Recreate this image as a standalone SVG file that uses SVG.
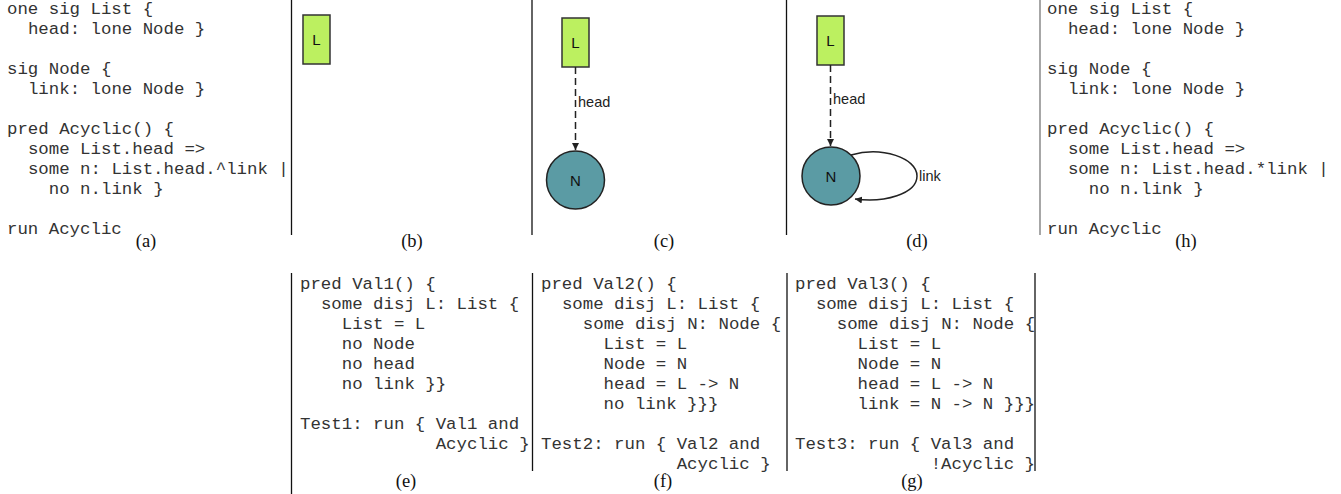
<svg xmlns="http://www.w3.org/2000/svg" width="1341" height="494" viewBox="0 0 1341 494">
<style>
.code{font-family:"Liberation Mono","DejaVu Sans Mono",monospace;font-size:17.4px;fill:#333}
.cap{font-family:"Liberation Serif","DejaVu Serif",serif;font-size:18.5px;fill:#111;text-anchor:middle}
.sep{stroke:#111;stroke-width:1.3}
.lbox{fill:#bcf060;stroke:#333;stroke-width:1.5}
.ncirc{fill:#5b9ba4;stroke:#222;stroke-width:1.5}
.ntxt{font-family:"Liberation Sans","DejaVu Sans",sans-serif;font-size:15px;fill:#111;text-anchor:middle}
.elab{font-family:"Liberation Sans","DejaVu Sans",sans-serif;font-size:14.5px;fill:#222}
.dash{stroke:#222;stroke-width:1.5;stroke-dasharray:7,4;fill:none}
.solid{stroke:#222;stroke-width:1.5;fill:none}
</style>
<defs>
<marker id="arr" viewBox="0 0 10 10" refX="10" refY="5" markerWidth="7" markerHeight="8" markerUnits="userSpaceOnUse" orient="auto">
<path d="M0,0 L10,5 L0,10 z" fill="#222"/>
</marker>
</defs>
<rect width="1341" height="494" fill="#fff"/>

<g id="separators">
<line class="sep" x1="291.5" y1="0" x2="291.5" y2="235"/>
<line class="sep" x1="532" y1="0" x2="532" y2="235"/>
<line class="sep" x1="786.5" y1="0" x2="786.5" y2="235"/>
<line class="sep" x1="1040" y1="0" x2="1040" y2="235" style="stroke:#777"/>
<line class="sep" x1="291.5" y1="273" x2="291.5" y2="494"/>
<line class="sep" x1="532.5" y1="273" x2="532.5" y2="471"/>
<line class="sep" x1="787" y1="273" x2="787" y2="471"/>
<line class="sep" x1="1035" y1="273" x2="1035" y2="471"/>
</g>

<g id="panel-a">
<text class="code" x="7" y="13.5">one sig List {</text>
<text class="code" x="27.9" y="33.5">head: lone Node }</text>
<text class="code" x="7" y="73.5">sig Node {</text>
<text class="code" x="27.9" y="93.5">link: lone Node }</text>
<text class="code" x="7" y="133.5">pred Acyclic() {</text>
<text class="code" x="27.9" y="153.5">some List.head =&gt;</text>
<text class="code" x="27.9" y="173.5">some n: List.head.^link |</text>
<text class="code" x="48.8" y="193.5">no n.link }</text>
<text class="code" x="7" y="233.5">run Acyclic</text>
<text class="cap" x="146" y="247">(a)</text>
</g>

<g id="panel-h">
<text class="code" x="1047" y="13.5">one sig List {</text>
<text class="code" x="1067.9" y="33.5">head: lone Node }</text>
<text class="code" x="1047" y="73.5">sig Node {</text>
<text class="code" x="1067.9" y="93.5">link: lone Node }</text>
<text class="code" x="1047" y="133.5">pred Acyclic() {</text>
<text class="code" x="1067.9" y="153.5">some List.head =&gt;</text>
<text class="code" x="1067.9" y="173.5">some n: List.head.*link |</text>
<text class="code" x="1088.8" y="193.5">no n.link }</text>
<text class="code" x="1047" y="233.5">run Acyclic</text>
<text class="cap" x="1186" y="247">(h)</text>
</g>

<g id="b-L">
<rect class="lbox" x="303" y="15" width="27" height="49"/>
<text class="ntxt" x="316.5" y="45">L</text>
</g>
<text class="cap" x="412" y="247">(b)</text>

<g id="c-L">
<rect class="lbox" x="562" y="18" width="27" height="49"/>
<text class="ntxt" x="575.5" y="48">L</text>
</g>
<g id="c-N">
<circle class="ncirc" cx="575.5" cy="180" r="29"/>
<text class="ntxt" x="575.5" y="185.5">N</text>
</g>
<text class="cap" x="664" y="247">(c)</text>

<g id="d-L">
<rect class="lbox" x="817" y="16" width="27" height="49"/>
<text class="ntxt" x="830.5" y="46">L</text>
</g>
<g id="d-N">
<circle class="ncirc" cx="831" cy="176" r="29"/>
<text class="ntxt" x="831" y="181.5">N</text>
</g>
<text class="cap" x="917" y="247">(d)</text>

<g id="connectors">
<line class="dash" x1="575.5" y1="67" x2="575.5" y2="150" marker-end="url(#arr)"/>
<text class="elab" x="578" y="107">head</text>
<line class="dash" x1="830.5" y1="65" x2="830.5" y2="146" marker-end="url(#arr)"/>
<text class="elab" x="833" y="104">head</text>
<path class="solid" d="M851,155 C882,146 917,158 917,176 C917,194 884,203 855,199" marker-end="url(#arr)"/>
<text class="elab" x="919" y="181">link</text>
</g>

<g id="panel-e">
<text class="code" x="300" y="289">pred Val1() {</text>
<text class="code" x="320.9" y="309">some disj L: List {</text>
<text class="code" x="341.8" y="329">List = L</text>
<text class="code" x="341.8" y="349">no Node</text>
<text class="code" x="341.8" y="369">no head</text>
<text class="code" x="341.8" y="389">no link }}</text>
<text class="code" x="300" y="429">Test1: run { Val1 and</text>
<text class="code" x="435.7" y="449">Acyclic }</text>
<text class="cap" x="406" y="487">(e)</text>
</g>

<g id="panel-f">
<text class="code" x="541" y="289">pred Val2() {</text>
<text class="code" x="561.9" y="309">some disj L: List {</text>
<text class="code" x="582.8" y="329">some disj N: Node {</text>
<text class="code" x="603.6" y="349">List = L</text>
<text class="code" x="603.6" y="369">Node = N</text>
<text class="code" x="603.6" y="389">head = L -&gt; N</text>
<text class="code" x="603.6" y="409">no link }}}</text>
<text class="code" x="541" y="449">Test2: run { Val2 and</text>
<text class="code" x="676.7" y="469">Acyclic }</text>
<text class="cap" x="663" y="487">(f)</text>
</g>

<g id="panel-g">
<text class="code" x="795" y="289">pred Val3() {</text>
<text class="code" x="815.9" y="309">some disj L: List {</text>
<text class="code" x="836.8" y="329">some disj N: Node {</text>
<text class="code" x="857.6" y="349">List = L</text>
<text class="code" x="857.6" y="369">Node = N</text>
<text class="code" x="857.6" y="389">head = L -&gt; N</text>
<text class="code" x="857.6" y="409">link = N -&gt; N }}}</text>
<text class="code" x="795" y="449">Test3: run { Val3 and</text>
<text class="code" x="930.7" y="469">!Acyclic }</text>
<text class="cap" x="912" y="487">(g)</text>
</g>
</svg>
